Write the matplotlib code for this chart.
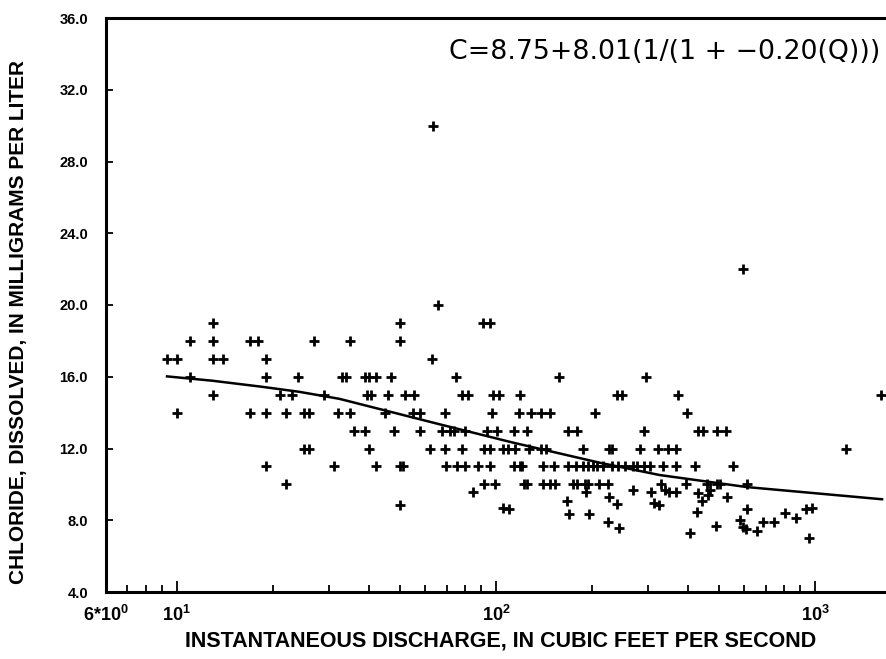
import numpy as np
import matplotlib
matplotlib.use("Agg")
import matplotlib.pyplot as plt
from matplotlib.ticker import NullFormatter, LogLocator

plt.rcParams['font.family'] = ['Liberation Sans', 'DejaVu Sans']
plt.rcParams['mathtext.fontset'] = 'custom'
plt.rcParams['mathtext.rm'] = 'Liberation Sans:bold'
plt.rcParams['mathtext.it'] = 'Liberation Sans:bold'
plt.rcParams['mathtext.bf'] = 'Liberation Sans:bold'

# discharge (cfs) of samples, grouped by chloride value (mg/L)
q_19 = [13, 50, 91, 96]
q_18 = [11, 13, 17, 18, 27, 35, 50]
q_17 = [9.3, 10, 13, 14, 19, 63]
q_16 = [11, 19, 24, 33, 34, 39, 40, 42, 47, 75, 158, 296]
q_15 = [13, 21, 23, 29, 39.5, 40.7, 46, 52, 55.5, 78, 82, 98, 102, 119, 240, 249, 372, 1607]
q_14 = [10, 17, 19, 22, 25, 26, 32, 35, 45, 55, 58, 69, 97, 118, 129, 138, 148, 204, 398]
q_13 = [36, 39, 48, 58, 68, 72, 74, 80, 94, 101, 114, 125, 168, 179, 290, 430, 446, 493, 524]
q_12 = [25, 26, 40, 62, 69, 78, 91.5, 96, 105, 109, 115, 127, 138, 143, 187, 226, 231,
        282, 322, 346, 367, 1247]
q_11 = [19, 31, 42, 50, 51, 69.5, 75.4, 80, 88, 96, 114, 119, 121, 140, 152, 168, 178, 187,
        194, 201, 208, 216, 231, 241, 253, 269, 276, 290, 303, 333, 367, 420, 554]
q_10 = [22, 91.5, 99.5, 122, 125, 140, 148, 153, 174, 179, 190, 194, 210, 224, 329, 393,
        457, 491, 503, 614]

# the rest of the samples
q_other = [63.7, 66, 593,
           85, 192, 226, 269, 307, 338, 349, 367, 430, 443, 462, 468, 528, 167,
           50, 105, 110, 169, 195, 239, 224, 243, 312, 324, 427, 407, 488, 581, 614,
           593, 607, 656, 685, 745, 806, 871, 934, 976, 957]
c_other = [30, 20, 22,
           9.6, 9.6, 9.3, 9.7, 9.6, 9.7, 9.6, 9.6, 9.5, 9.1, 9.4, 9.7, 9.3, 9.1,
           8.85, 8.7, 8.6, 8.35, 8.35, 8.9, 7.9, 7.55, 8.95, 8.85, 8.45, 7.3, 7.7, 8.0, 8.6,
           7.6, 7.5, 7.4, 7.9, 7.9, 8.4, 8.1, 8.6, 8.7, 7.0]

# fitted curve
q_fit = [9.32, 12.9, 18.5, 24.2, 32.3, 66.6, 113, 211, 326, 611, 1621]
c_fit = [16.02, 15.78, 15.44, 15.16, 14.77, 13.35, 12.33, 11.21, 10.52, 9.85, 9.17]

rows = [(19, q_19), (18, q_18), (17, q_17), (16, q_16), (15, q_15),
        (14, q_14), (13, q_13), (12, q_12), (11, q_11), (10, q_10)]
q_all = list(q_other)
c_all = list(c_other)
for c, qs in rows:
    q_all += qs
    c_all += [c] * len(qs)

fig = plt.figure(figsize=(8.87, 6.59), dpi=100)
ax = fig.add_axes([106 / 887, 1 - 592 / 659, 1 - 106 / 887, (592 - 18) / 659])

ax.plot(q_all, c_all, linestyle='none', marker='+', markersize=7, mew=2.0, color='black')
ax.plot(q_fit, c_fit, color='black', linewidth=1.8)

ax.set_xscale('log')
ax.set_xlim(6, 1680)
ax.set_ylim(4, 36)

ax.set_xticks([6, 10, 100, 1000])
ax.set_xticklabels([r'$6{*}10^0$', r'$10^1$', r'$10^2$', r'$10^3$'])
ax.xaxis.set_minor_locator(LogLocator(base=10, subs=np.arange(2, 10)))
ax.xaxis.set_minor_formatter(NullFormatter())

yt = np.arange(4, 37, 4)
ax.set_yticks(yt)
ax.set_yticklabels(['%.1f' % v for v in yt], fontweight='bold', fontsize=10.5)

ax.tick_params(axis='x', which='major', direction='in', length=8, width=1.3, labelsize=13, pad=9)
ax.tick_params(axis='x', which='minor', direction='in', length=5, width=1.3)
ax.tick_params(axis='y', direction='in', length=5, width=1.3, pad=13)

ax.spines['right'].set_visible(False)
for s in ['left', 'top', 'bottom']:
    ax.spines[s].set_linewidth(2.2)

fig.text(880 / 887, 1 - 52 / 659, 'C=8.75+8.01(1/(1 + \u22120.20(Q)))',
         fontsize=19.3, family='DejaVu Sans', ha='right', va='center')

fig.text(501 / 887, 1 - 641 / 659, 'INSTANTANEOUS DISCHARGE, IN CUBIC FEET PER SECOND',
         ha='center', va='center', fontsize=15.5, fontweight='bold')
fig.text(19 / 887, 1 - 322 / 659, 'CHLORIDE, DISSOLVED, IN MILLIGRAMS PER LITER',
         ha='center', va='center', rotation=90, fontsize=15, fontweight='bold')

fig.savefig('out.png', dpi=100)
